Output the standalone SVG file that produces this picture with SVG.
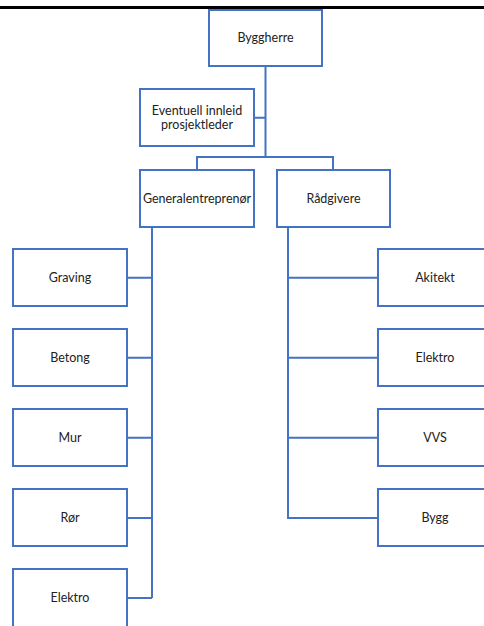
<svg xmlns="http://www.w3.org/2000/svg" width="484" height="626" viewBox="0 0 484 626">
<style>
.box{fill:#fff;stroke:#4472C4;stroke-width:2}
.con{fill:none;stroke:#4472C4;stroke-width:2}
text{font-family:Lato,"Open Sans","Liberation Sans",sans-serif;font-size:12.5px;fill:#222;text-anchor:middle}
</style>
<rect width="484" height="626" fill="#fff"/>
<line x1="0" y1="7.5" x2="484" y2="7.5" stroke="#000" stroke-width="3"/>
<g id="connectors">
<path class="con" d="M265.5 66V157M254 117.7H265.5M197 170V157H333V170"/>
<path class="con" d="M152 227V598M127 277.7H152M127 357.7H152M127 437.7H152M127 518H152M127 598H152"/>
<path class="con" d="M288 227V518H378M288 277.7H378M288 357.7H378M288 437.7H378"/>
</g>
<g id="byggherre"><rect class="box" x="209" y="10" width="113" height="56"/><text x="265.5" y="42">Byggherre</text></g>
<g id="prosjektleder"><rect class="box" x="140" y="89" width="114" height="57"/><text x="197" y="114.5">Eventuell innleid</text><text x="197" y="128.5">prosjektleder</text></g>
<g id="generalentreprenor"><rect class="box" x="140" y="170" width="114" height="57"/><text x="197" y="202.5">Generalentreprenør</text></g>
<g id="radgivere"><rect class="box" x="277" y="170" width="113" height="57"/><text x="333.5" y="202.5">Rådgivere</text></g>
<g id="graving"><rect class="box" x="13" y="249" width="114" height="57"/><text x="70" y="282">Graving</text></g>
<g id="betong"><rect class="box" x="13" y="329" width="114" height="57"/><text x="70" y="362">Betong</text></g>
<g id="mur"><rect class="box" x="13" y="409" width="114" height="57"/><text x="70" y="442">Mur</text></g>
<g id="ror"><rect class="box" x="13" y="489" width="114" height="57"/><text x="70" y="522">Rør</text></g>
<g id="elektro-ge"><rect class="box" x="13" y="569" width="114" height="70"/><text x="70" y="602">Elektro</text></g>
<g id="akitekt"><rect class="box" x="378" y="249" width="120" height="57"/><text x="435" y="282">Akitekt</text></g>
<g id="elektro-r"><rect class="box" x="378" y="329" width="120" height="57"/><text x="435" y="362">Elektro</text></g>
<g id="vvs"><rect class="box" x="378" y="409" width="120" height="57"/><text x="435" y="442">VVS</text></g>
<g id="bygg"><rect class="box" x="378" y="489" width="120" height="57"/><text x="435" y="522">Bygg</text></g>
</svg>
